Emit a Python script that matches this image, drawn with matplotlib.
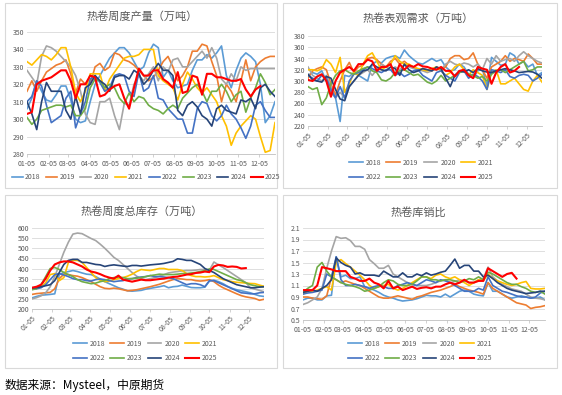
import numpy as np
import matplotlib
matplotlib.use("Agg")
import matplotlib.pyplot as plt
from matplotlib.patches import Rectangle

plt.rcParams["font.family"] = ["Noto Sans CJK SC", "DejaVu Sans"]

W, H = 562, 395

YEARS = ["2018", "2019", "2020", "2021", "2022", "2023", "2024", "2025"]
COLORS = ["#5B9BD5", "#ED7D31", "#A5A5A5", "#FFC000",
          "#4472C4", "#70AD47", "#264478", "#FF0000"]
MONTH_LABELS = ["01-05", "02-05", "03-05", "04-05", "05-05", "06-05",
                "07-05", "08-05", "09-05", "10-05", "11-05", "12-05"]
MONTH_DAYS = [0, 31, 59, 90, 120, 151, 181, 212, 243, 273, 304, 334]

# ---- 热卷周度产量 (万吨), weekly ----
prod = {
    "2018": [306, 312, 322, 316, 311, 310, 314, 319, 319, 311, 300, 298, 299, 310, 320, 325, 330, 335, 338, 341,
             341, 338, 333, 328, 330, 338, 343, 341, 324, 328, 322, 318, 319, 320, 328, 334, 334, 337, 335, 338,
             342, 325, 318, 328, 335, 338, 336, 333, 320, 298, 302, 310],
    "2019": [316, 322, 316, 322, 327, 329, 331, 332, 334, 326, 315, 323, 320, 320, 330, 332, 328, 330, 338, 337,
             334, 333, 331, 328, 325, 322, 324, 328, 333, 336, 330, 322, 325, 330, 339, 339, 343, 342, 333, 325,
             310, 320, 316, 310, 322, 334, 322, 330, 333, 335, 336, 336],
    "2020": [328, 324, 320, 336, 342, 341, 339, 336, 333, 330, 325, 316, 303, 298, 297, 310, 310, 312, 302, 294,
             309, 308, 320, 325, 322, 326, 330, 322, 330, 327, 334, 335, 330, 330, 333, 336, 339, 335, 341, 335,
             323, 320, 326, 322, 330, 328, 329, 329, 329, 329, 329, 329],
    "2021": [333, 331, 334, 337, 336, 334, 337, 341, 341, 330, 315, 310, 316, 326, 326, 326, 316, 323, 327, 331,
             335, 336, 336, 337, 340, 340, 340, 325, 322, 320, 318, 311, 320, 327, 323, 318, 315, 318, 314, 310,
             302, 296, 285, 292, 296, 299, 302, 300, 290, 281, 282, 298],
    "2022": [310, 313, 322, 319, 308, 298, 300, 302, 312, 316, 295, 303, 310, 323, 325, 321, 316, 318, 325, 326,
             325, 316, 313, 327, 316, 318, 325, 312, 311, 306, 303, 300, 300, 292, 292, 306, 310, 309, 302, 299,
             302, 308, 303, 300, 295, 289, 296, 308, 310, 305, 301, 301],
    "2023": [301, 297, 300, 305, 306, 307, 308, 308, 307, 308, 302, 302, 306, 318, 323, 322, 318, 320, 318, 312,
             309, 315, 310, 313, 312, 308, 306, 305, 303, 306, 308, 306, 312, 315, 318, 320, 316, 310, 316, 316,
             320, 316, 310, 314, 316, 304, 312, 318, 326, 321, 314, 317],
    "2024": [310, 303, 294, 310, 321, 316, 316, 316, 305, 300, 313, 303, 318, 320, 325, 322, 320, 316, 324, 325,
             325, 323, 328, 326, 320, 323, 328, 332, 328, 328, 325, 305, 302, 308, 310, 307, 302, 300, 296, 306,
             308, 305, 304, 303, 311, 310, 312, 306, 318, 320, 316, 313],
    "2025": [303, 304, 320, 322, 323, 324, 326, 328, 328, 322, 312, 320, 320, 325, 324, 313, 314, 317, 319, 320,
             312, 306, 318, 329, 325, 325, 328, 328, 323, 321, 318, 327, 315, 316, 325, 324, 314, 326, 326, 324,
             324, 323, 322, 322, 323, 317, 313, 317, 319],
}

# ---- 热卷表观需求 (万吨) ----
demand = {
    "2018": [310, 315, 312, 318, 300, 280, 270, 228, 310, 308, 315, 310, 305, 300, 330, 335, 332, 340, 343, 345,
             340, 355, 345, 338, 332, 330, 335, 340, 335, 338, 325, 318, 320, 330, 325, 312, 305, 318, 322, 290,
             342, 335, 328, 330, 350, 345, 330, 335, 325, 330, 310, 315],
    "2019": [305, 318, 322, 325, 320, 295, 275, 300, 320, 333, 315, 325, 328, 340, 342, 338, 330, 325, 335, 340,
             330, 335, 328, 325, 320, 322, 320, 318, 325, 320, 325, 340, 345, 345, 338, 340, 350, 330, 320, 305,
             325, 330, 335, 345, 335, 340, 338, 335, 348, 340, 330, 330],
    "2020": [325, 310, 305, 300, 310, 290, 270, 280, 270, 290, 300, 310, 315, 320, 310, 320, 330, 325, 320, 325,
             320, 330, 325, 322, 320, 318, 315, 318, 322, 320, 330, 335, 330, 328, 332, 330, 325, 330, 320, 340,
             330, 345, 335, 338, 340, 335, 345, 352, 345, 340, 335, 332],
    "2021": [320, 320, 318, 322, 338, 330, 315, 342, 280, 295, 315, 310, 330, 345, 350, 335, 320, 325, 330, 345,
             335, 330, 330, 325, 322, 320, 318, 322, 325, 318, 310, 315, 325, 330, 320, 310, 320, 315, 310, 285,
             315, 320, 295, 295, 300, 305, 295, 285, 282, 300, 310, 298],
    "2022": [310, 305, 300, 310, 305, 285, 270, 290, 270, 300, 312, 315, 320, 325, 322, 318, 315, 320, 320, 310,
             315, 308, 312, 318, 320, 310, 305, 300, 315, 318, 310, 305, 300, 315, 318, 305, 312, 308, 300, 285,
             320, 318, 315, 320, 308, 305, 310, 312, 310, 300, 305, 312],
    "2023": [290, 285, 288, 258, 270, 295, 310, 318, 320, 315, 312, 318, 322, 325, 318, 315, 302, 300, 305, 315,
             318, 320, 315, 310, 312, 305, 298, 295, 300, 310, 300, 305, 310, 315, 318, 312, 310, 305, 308, 300,
             312, 318, 320, 315, 320, 325, 330, 335, 318, 320, 325, 325],
    "2024": [312, 302, 300, 298, 308, 305, 285, 268, 265, 290, 300, 310, 318, 320, 330, 325, 320, 318, 325, 322,
             310, 330, 320, 315, 318, 322, 320, 318, 325, 322, 305, 290, 310, 318, 316, 320, 315, 322, 318, 316,
             315, 318, 320, 322, 320, 318, 315, 316, 317, 316, 312, 305],
    "2025": [302, 300, 308, 312, 300, 272, 300, 315, 320, 325, 318, 330, 330, 338, 335, 318, 325, 325, 330, 310,
             330, 320, 328, 325, 330, 326, 325, 322, 320, 325, 318, 318, 308, 318, 320, 310, 305, 325, 322, 320,
             295, 315, 325, 330, 315, 318, 325],
}

# ---- 热卷周度总库存 (万吨) ----
stock = {
    "2018": [255, 262, 268, 270, 272, 275, 370, 380, 385, 390, 385, 378, 372, 370, 360, 348, 335, 325, 315, 305,
             298, 290, 288, 290, 292, 298, 302, 306, 310, 315, 305, 310, 312, 318, 312, 306, 305, 305, 308, 338,
             342, 335, 325, 312, 302, 295, 290, 285, 280, 272, 265, 262],
    "2019": [272, 276, 278, 280, 282, 300, 350, 372, 370, 365, 362, 355, 345, 335, 322, 310, 302, 300, 303, 300,
             295, 290, 292, 295, 300, 305, 310, 316, 322, 330, 338, 345, 350, 348, 345, 345, 340, 338, 340, 345,
             335, 318, 305, 295, 285, 275, 266, 260, 256, 252, 243, 248],
    "2020": [250, 256, 265, 280, 310, 360, 420, 480, 530, 570, 575, 572, 560, 548, 538, 520, 500, 478, 455, 440,
             420, 400, 380, 362, 350, 345, 350, 355, 362, 370, 378, 382, 385, 388, 390, 390, 392, 395, 395, 392,
             432, 418, 405, 390, 375, 360, 345, 330, 305, 298, 292, 285],
    "2021": [300, 305, 310, 330, 370, 375, 340, 355, 430, 440, 440, 430, 405, 380, 355, 342, 335, 338, 345, 350,
             355, 362, 372, 385, 395, 392, 390, 395, 400, 400, 395, 395, 395, 390, 375, 365, 360, 360, 358, 360,
             365, 355, 345, 340, 335, 332, 330, 328, 326, 325, 318, 312],
    "2022": [300, 300, 305, 320, 345, 370, 375, 368, 360, 350, 345, 345, 340, 338, 345, 348, 345, 340, 335, 338,
             340, 348, 350, 355, 358, 360, 365, 360, 360, 358, 355, 350, 340, 330, 320, 325, 325, 320, 310, 340,
             340, 330, 320, 310, 300, 290, 280, 278, 275, 275, 280, 282],
    "2023": [295, 300, 320, 360, 400, 405, 395, 380, 370, 360, 345, 335, 330, 325, 328, 335, 340, 350, 355, 358,
             355, 350, 350, 352, 355, 360, 365, 368, 372, 370, 370, 370, 372, 375, 375, 378, 380, 385, 390, 398,
             395, 385, 375, 365, 355, 345, 340, 330, 320, 315, 310, 310],
    "2024": [305, 305, 310, 315, 320, 340, 380, 420, 440, 445, 445, 430, 430, 425, 420, 418, 410, 415, 418, 415,
             412, 410, 415, 415, 412, 415, 418, 420, 422, 425, 430, 435, 448, 445, 440, 440, 430, 420, 400, 390,
             380, 365, 350, 340, 330, 320, 315, 310, 305, 305, 308, 310],
    "2025": [305, 310, 320, 350, 390, 420, 430, 435, 435, 430, 420, 410, 395, 385, 380, 372, 362, 355, 350, 365,
             345, 340, 335, 340, 345, 342, 342, 345, 348, 350, 355, 358, 360, 365, 370, 372, 378, 380, 385, 382,
             410, 418, 415, 408, 410, 408, 400, 402],
}

# ---- 热卷库销比 ----
ratio = {
    "2018": [0.85, 0.88, 0.88, 0.85, 0.85, 0.92, 0.93, 1.60, 1.25, 1.28, 1.22, 1.22, 1.25, 1.08, 1.05, 1.02, 0.98,
             0.93, 0.90, 0.88, 0.85, 0.83, 0.84, 0.85, 0.87, 0.90, 0.93, 0.92, 0.92, 0.90, 0.95, 0.90, 0.95, 1.00,
             1.02, 1.00, 0.95, 0.93, 0.92, 1.15, 1.00, 1.00, 0.95, 0.90, 0.88, 0.90, 0.92, 0.90, 0.88, 0.88, 0.90,
             0.85],
    "2019": [0.90, 0.90, 0.88, 0.87, 0.86, 0.92, 1.25, 1.20, 1.15, 1.18, 1.15, 1.12, 1.10, 1.05, 1.00, 0.95, 0.90,
             0.88, 0.88, 0.90, 0.92, 0.90, 0.88, 0.86, 0.90, 0.92, 0.95, 0.98, 1.00, 1.02, 1.05, 1.08, 1.12, 1.08,
             1.05, 1.02, 1.00, 0.98, 0.95, 1.15, 1.05, 1.00, 0.95, 0.90, 0.85, 0.80, 0.78, 0.76, 0.70, 0.72, 0.73,
             0.75],
    "2020": [0.77, 0.80, 0.85, 0.90, 1.05, 1.40, 1.70, 1.95, 1.92, 1.93, 1.88, 1.78, 1.78, 1.73, 1.55, 1.48, 1.40,
             1.40, 1.45, 1.30, 1.25, 1.20, 1.15, 1.12, 1.10, 1.10, 1.10, 1.12, 1.15, 1.18, 1.20, 1.15, 1.17, 1.20,
             1.18, 1.15, 1.15, 1.20, 1.22, 1.42, 1.25, 1.18, 1.12, 1.08, 1.04, 1.02, 1.00, 0.95, 0.90, 0.88, 0.87,
             0.85],
    "2021": [0.95, 1.00, 1.00, 1.02, 1.05, 1.08, 1.02, 1.50, 1.55, 1.48, 1.42, 1.35, 1.28, 1.20, 1.10, 1.05, 1.08,
             1.10, 1.12, 1.05, 1.02, 1.05, 1.10, 1.15, 1.20, 1.25, 1.25, 1.22, 1.28, 1.30, 1.25, 1.22, 1.25, 1.20,
             1.15, 1.10, 1.15, 1.20, 1.18, 1.30, 1.22, 1.18, 1.15, 1.12, 1.10, 1.12, 1.15, 1.17, 1.05, 1.04, 1.04,
             1.05],
    "2022": [0.95, 0.97, 0.98, 1.00, 1.02, 1.30, 1.25, 1.60, 1.20, 1.10, 1.10, 1.12, 1.10, 1.08, 1.05, 1.08, 1.10,
             1.08, 1.05, 1.05, 1.10, 1.12, 1.15, 1.12, 1.10, 1.15, 1.20, 1.18, 1.15, 1.20, 1.18, 1.15, 1.10, 1.05,
             1.00, 1.00, 1.00, 1.05, 1.02, 1.25, 1.10, 1.05, 1.00, 0.98, 0.95, 0.92, 0.90, 0.90, 0.88, 0.90, 0.97,
             1.00],
    "2023": [0.98, 1.05, 1.10, 1.42, 1.50, 1.35, 1.25, 1.20, 1.15, 1.12, 1.10, 1.08, 1.05, 1.00, 1.02, 1.05, 1.08,
             1.15, 1.20, 1.18, 1.12, 1.10, 1.10, 1.12, 1.18, 1.25, 1.25, 1.20, 1.20, 1.18, 1.20, 1.20, 1.18, 1.15,
             1.18, 1.22, 1.20, 1.25, 1.20, 1.33, 1.30, 1.25, 1.20, 1.15, 1.12, 1.12, 1.08, 1.05, 1.00, 0.98, 1.00,
             0.95],
    "2024": [0.98, 1.00, 1.02, 1.00, 1.05, 1.10, 1.20, 1.58, 1.50, 1.45, 1.42, 1.30, 1.32, 1.28, 1.28, 1.28, 1.26,
             1.35, 1.30, 1.25, 1.25, 1.32, 1.25, 1.25, 1.30, 1.27, 1.32, 1.28, 1.30, 1.33, 1.35, 1.45, 1.56, 1.40,
             1.45, 1.45, 1.35, 1.35, 1.25, 1.28, 1.22, 1.15, 1.10, 1.05, 1.02, 1.00, 0.98, 0.96, 0.97, 0.98, 1.00,
             1.00],
    "2025": [1.02, 1.02, 1.02, 1.10, 1.42, 1.40, 1.38, 1.35, 1.35, 1.35, 1.25, 1.22, 1.18, 1.18, 1.22, 1.15, 1.12,
             1.05, 1.18, 1.05, 1.08, 1.02, 1.05, 1.08, 1.04, 1.06, 1.07, 1.05, 1.08, 1.08, 1.12, 1.15, 1.12, 1.15,
             1.20, 1.15, 1.15, 1.18, 1.18, 1.40, 1.35, 1.30, 1.25, 1.30, 1.32, 1.22],
}

TXT = "#595959"
GRID = "#D9D9D9"


def px_box(x0, y0, x1, y1):
    return [x0 / W, 1 - y1 / H, (x1 - x0) / W, (y1 - y0) / H]


def panel(fig, frame, plot, title, title_xy, data, yticks, ylabels, rotate,
          legend_xy, legend_rows):
    fig.patches.append(Rectangle((frame[0] / W, 1 - frame[3] / H),
                                 (frame[2] - frame[0]) / W, (frame[3] - frame[1]) / H,
                                 transform=fig.transFigure, fill=False,
                                 edgecolor="#D9D9D9", linewidth=0.8))
    ax = fig.add_axes(px_box(*plot))
    handles = []
    for yr, c in zip(YEARS, COLORS):
        v = data[yr]
        lw = 1.5 if yr == "2025" else 1.2
        h, = ax.plot(np.arange(len(v)), v, color=c, lw=lw, label=yr)
        handles.append(h)
    ax.set_xlim(0, 51)
    ax.set_ylim(yticks[0], yticks[-1])
    ax.set_yticks(yticks)
    ax.set_yticklabels(ylabels)
    ax.set_xticks([d / 7 for d in MONTH_DAYS])
    if rotate:
        ax.set_xticklabels(MONTH_LABELS, rotation=45, ha="right",
                           rotation_mode="anchor")
    else:
        ax.set_xticklabels(MONTH_LABELS)
    ax.grid(axis="y", color=GRID, lw=0.6)
    ax.set_axisbelow(True)
    for s in ["top", "right", "left"]:
        ax.spines[s].set_visible(False)
    ax.spines["bottom"].set_color("#BFBFBF")
    ax.spines["bottom"].set_linewidth(0.6)
    ax.tick_params(axis="y", length=0, labelsize=5, labelcolor=TXT, pad=2)
    ax.tick_params(axis="x", length=2.5, width=0.5, color="#BFBFBF",
                   labelsize=5, labelcolor=TXT, pad=1.5)
    fig.text(title_xy[0] / W, 1 - title_xy[1] / H, title, fontsize=8,
             color=TXT, ha="center", va="center")
    if legend_rows == 1:
        hs, ncol = handles, 8
        kw = dict(handlelength=1.6, handletextpad=0.3, columnspacing=0.8)
    else:
        hs = [handles[i] for i in (0, 4, 1, 5, 2, 6, 3, 7)]
        ncol = 4
        kw = dict(handlelength=2.0, handletextpad=0.4, columnspacing=0.75,
                  labelspacing=1.0)
    fig.legend(handles=hs, labels=[h.get_label() for h in hs], ncol=ncol,
               loc="center", bbox_to_anchor=(legend_xy[0] / W, 1 - legend_xy[1] / H),
               frameon=False, fontsize=5, labelcolor=TXT, borderpad=0.2, **kw)
    return ax


fig = plt.figure(figsize=(W / 100, H / 100), dpi=100)
fig.patch.set_facecolor("white")

panel(fig, (5, 3, 277, 188), (27, 32, 275, 154), "热卷周度产量（万吨）", (142, 16),
      prod, list(range(280, 351, 10)), [str(v) for v in range(280, 351, 10)],
      False, (146, 177), 1)

panel(fig, (283, 3, 557, 188), (308, 36, 542, 126), "热卷表观需求（万吨）", (418, 18),
      demand, list(range(220, 381, 20)), [str(v) for v in range(220, 381, 20)],
      True, (421, 170), 2)

panel(fig, (5, 195, 277, 368), (32, 228, 264, 309), "热卷周度总库存（万吨）", (142, 212),
      stock, list(range(200, 601, 50)), [str(v) for v in range(200, 601, 50)],
      True, (145, 351), 2)

rt = [0.5, 0.7, 0.9, 1.1, 1.3, 1.5, 1.7, 1.9, 2.1]
panel(fig, (283, 195, 557, 368), (303, 228, 545, 320), "热卷库销比", (418, 212),
      ratio, rt, [f"{v:.1f}" for v in rt], False, (420, 351), 2)

fig.text(5 / W, 1 - 385 / H, "数据来源：Mysteel，中原期货", fontsize=8.5,
         color="black", ha="left", va="center")

fig.savefig("out.png", dpi=100, facecolor="white")
